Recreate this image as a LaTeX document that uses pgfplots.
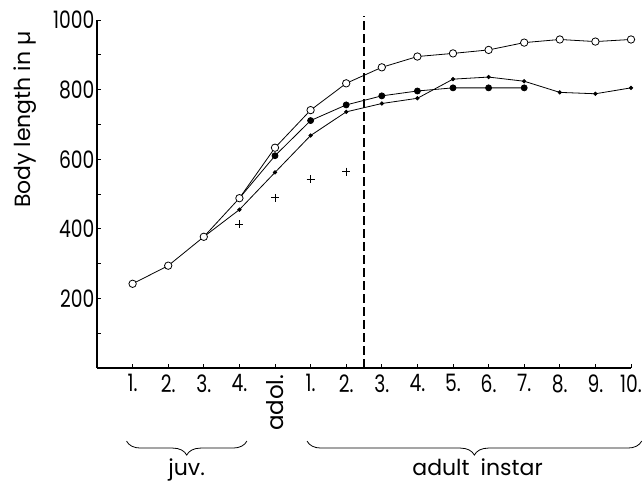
\documentclass[border=0pt]{standalone}
\usepackage{fontspec}
\setmainfont{Poppins}
\newfontfamily\tickfont{Poppins}[FakeStretch=0.78]
\usepackage{pgfplots}
\pgfplotsset{compat=1.18}
\usetikzlibrary{decorations.pathreplacing}

\begin{document}
\begin{tikzpicture}
\path[use as bounding box] (-97pt,-118pt) rectangle (546pt,368pt);
\begin{axis}[
  at={(0,0)}, anchor=south west,
  scale only axis, width=534pt, height=348pt,
  xmin=-1, xmax=14, ymin=0, ymax=1000,
  axis x line*=bottom, axis y line*=left,
  axis line style={line width=1.2pt, -},
  clip=false,
  xtick={0,...,14},
  xticklabels={1.,2.,3.,4.,\rotatebox{90}{\rmfamily\fontsize{23}{23}\selectfont adol.},1.,2.,3.,4.,5.,6.,7.,8.,9.,10.},
  ytick={200,400,600,800,1000},
  yticklabels={200,400,600,800,1000},
  minor ytick={100,300,500,700,900},
  tick align=inside,
  major tick length=4pt, minor tick length=4pt,
  tick style={line width=0.8pt, black},
  ticklabel style={font=\tickfont\fontsize{24}{24}\selectfont},
  xticklabel style={yshift=-3pt},
  yticklabel style={xshift=1pt},
  ylabel={Body length in µ},
  ylabel style={at={(rel axis cs:-0.1348,0.713)}, anchor=center, font=\fontsize{22}{22}\selectfont},
  every axis plot/.append style={line width=0.8pt, black},
]
% dashed separator
\addplot[dash pattern=on 9pt off 4pt, line width=1.2pt] coordinates {(6.5,0) (6.5,1012)};
% small dots
\addplot[no marks] coordinates {(2,377) (3,455)};
\addplot[mark=*, mark size=1.7pt] coordinates {
  (3,455) (4,562) (5,668) (6,736) (7,760) (8,775) (9,830) (10,836) (11,824) (12,792) (13,788) (14,805)};
% big dots
\addplot[no marks] coordinates {(3,488) (4,610)};
\addplot[mark=*, mark size=3pt] coordinates {
  (4,610) (5,711) (6,756) (7,782) (8,796) (9,805) (10,805) (11,805)};
% open circles
\addplot[mark=*, mark size=3.7pt, mark options={fill=white}] coordinates {
  (0,242) (1,294) (2,377) (3,488) (4,633) (5,741) (6,818) (7,864) (8,895) (9,904) (10,914) (11,935) (12,944) (13,938) (14,944)};
% crosses
\addplot[only marks, mark=+, mark size=4pt] coordinates {(3,413) (4,489) (5,543) (6,564)};
% braces
\draw[decorate, decoration={brace, mirror, amplitude=14pt}, line width=0.8pt] (axis cs:-0.17,-210) -- (axis cs:3.21,-210);
\draw[decorate, decoration={brace, mirror, amplitude=14pt}, line width=0.8pt] (axis cs:4.9,-210) -- (axis cs:14.3,-210);
\node[anchor=base, inner sep=0pt, font=\fontsize{22}{22}\selectfont] at (axis cs:1.52,-310) {juv.};
\node[anchor=base, inner sep=0pt, font=\fontsize{22}{22}\selectfont] at (axis cs:9.69,-310) {adult\hspace{0.5em}instar};
\end{axis}
\end{tikzpicture}
\end{document}
